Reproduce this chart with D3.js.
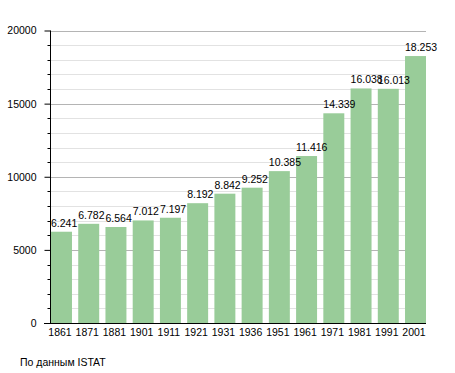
<!DOCTYPE html>
<html>
<head>
<meta charset="utf-8">
<script src="https://cdn.jsdelivr.net/npm/d3@7"></script>
<style>
    body { margin: 0; background: #fff; }
    text { font-family: "Liberation Sans", Arial, sans-serif; font-size: 10.5px; fill: #000; }
</style>
</head>
<body>
<div id="chart"></div>
<script>

// Data
let years = ["1861", "1871", "1881", "1901", "1911", "1921", "1931", "1936", "1951", "1961", "1971", "1981", "1991", "2001"];
let population = [6241, 6782, 6564, 7012, 7197, 8192, 8842, 9252, 10385, 11416, 14339, 16038, 16013, 18253];
let yTicks = [0, 5000, 10000, 15000, 20000];
let sourceNote = "По данным  ISTAT";

// Italian style thousands separator
let locale = d3.formatLocale({decimal: ",", thousands: ".", grouping: [3], currency: ["", ""]});
let formatValue = locale.format(",d");

let width = 455, height = 373;

let svg = d3.select("#chart").append("svg")
    .attr("width", width)
    .attr("height", height);

// Scales
let x = d3.scaleBand()
    .domain(years)
    .range([51, 426])
    .paddingInner(0.23)
    .paddingOuter(0);

let y = d3.scaleLinear()
    .domain([0, 20000])
    .range([323, 30.5]);

// Grid lines, minor every 1000 and major every 5000
let grid = svg.append("g").attr("class", "grid");

grid.selectAll("line.minor")
    .data(d3.range(1000, 20000, 1000).filter(d => d % 5000 !== 0))
    .enter().append("line")
    .attr("class", "minor")
    .attr("x1", 50).attr("x2", 426)
    .attr("y1", d => Math.round(y(d)) + 0.5)
    .attr("y2", d => Math.round(y(d)) + 0.5)
    .attr("stroke", "#e2e2e2");

grid.selectAll("line.major")
    .data(yTicks.filter(d => d > 0))
    .enter().append("line")
    .attr("class", "major")
    .attr("x1", 50).attr("x2", 426)
    .attr("y1", d => Math.round(y(d)) + 0.5)
    .attr("y2", d => Math.round(y(d)) + 0.5)
    .attr("stroke", "#b4b4b4");

// Bars
svg.selectAll("rect.bar")
    .data(population)
    .enter().append("rect")
    .attr("class", "bar")
    .attr("x", (d, i) => x(years[i]))
    .attr("width", x.bandwidth())
    .attr("y", d => y(d))
    .attr("height", d => y(0) - y(d))
    .attr("fill", "#99cc99");

// Value labels
svg.selectAll("text.value")
    .data(population)
    .enter().append("text")
    .attr("class", "value")
    .attr("x", (d, i) => x(years[i]))
    .attr("y", d => y(d) - 5)
    .text(d => formatValue(d));

// Y axis with minor ticks
let yAxis = d3.axisLeft(y)
    .tickValues(yTicks)
    .tickSize(6)
    .tickPadding(8)
    .tickFormat(d3.format("d"));

let yAxisG = svg.append("g")
    .attr("transform", "translate(50.5,0)")
    .call(yAxis);

yAxisG.select(".domain").remove();
yAxisG.selectAll(".tick line").attr("stroke", "#000");

yAxisG.selectAll("line.minor-tick")
    .data(d3.range(1000, 20000, 1000).filter(d => d % 5000 !== 0))
    .enter().append("line")
    .attr("class", "minor-tick")
    .attr("x1", -3).attr("x2", 0)
    .attr("y1", d => Math.round(y(d)) + 0.5)
    .attr("y2", d => Math.round(y(d)) + 0.5)
    .attr("stroke", "#000");

yAxisG.append("line")
    .attr("x1", 0).attr("x2", 0)
    .attr("y1", y(20000)).attr("y2", y(0))
    .attr("stroke", "#000");

// X axis
let xAxis = d3.axisBottom(x)
    .tickSize(0)
    .tickPadding(5);

let xAxisG = svg.append("g")
    .attr("transform", "translate(0," + (y(0) + 0.5) + ")")
    .call(xAxis);

xAxisG.select(".domain").remove();
xAxisG.selectAll(".tick text").attr("dx", -1.5);

xAxisG.append("line")
    .attr("x1", 44).attr("x2", 426)
    .attr("y1", 0).attr("y2", 0)
    .attr("stroke", "#000");

svg.selectAll(".tick text")
    .style("font-family", "'Liberation Sans', Arial, sans-serif")
    .style("font-size", "10.5px")
    .attr("fill", "#000");

// Source note
svg.append("text")
    .attr("x", 20)
    .attr("y", 366)
    .text(sourceNote);

</script>
</body>
</html>
